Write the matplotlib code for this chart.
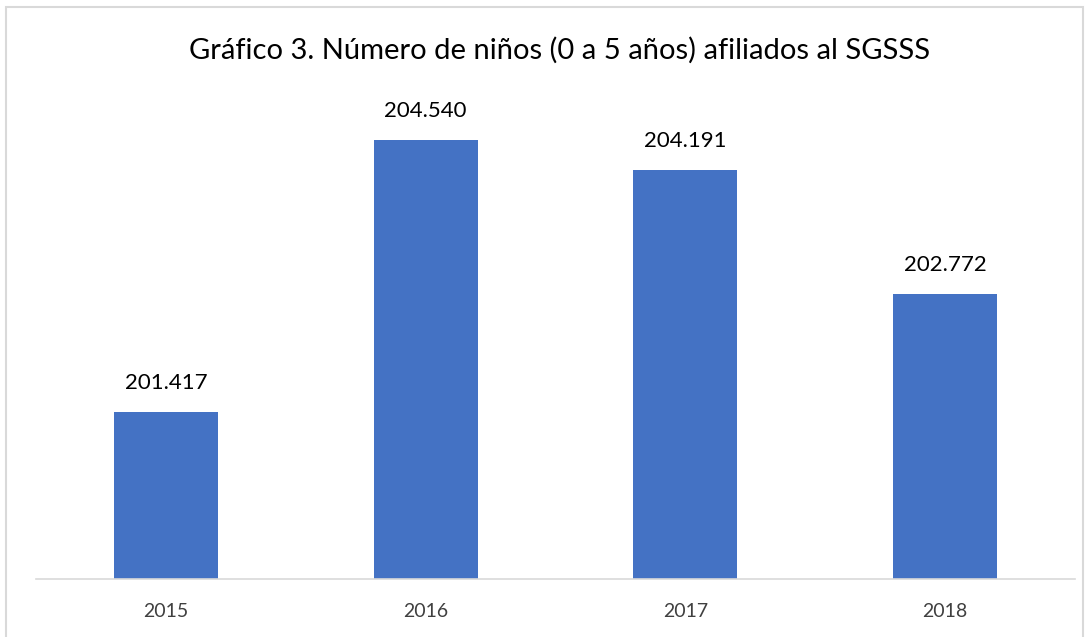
import matplotlib.pyplot as plt
from matplotlib.patches import Rectangle

years = ['2015', '2016', '2017', '2018']
ninos = [201417, 204540, 204191, 202772]

plt.rcParams['font.family'] = ['Lato', 'DejaVu Sans']

fig = plt.figure(figsize=(10.91, 6.37), dpi=100)
ax = fig.add_axes([36 / 1091, 1 - 579 / 637, (1075 - 36) / 1091, (579 - 100) / 637])

x = range(len(years))
bars = ax.bar(x, ninos, width=0.4, color='#4472C4', zorder=2)
ax.set_ylim(199500, 205000)
ax.set_xlim(-0.5, len(years) - 0.5)

for b, v in zip(bars, ninos):
    ax.text(b.get_x() + b.get_width() / 2, v + 220, f'{v:,}'.replace(',', '.'),
            ha='center', va='bottom', fontsize=16, color='#000000')

ax.set_xticks(list(x))
ax.set_xticklabels(years, fontsize=14, color='#404040')
ax.tick_params(axis='x', length=0, pad=17)
ax.set_yticks([])
for s in ['top', 'right', 'left']:
    ax.spines[s].set_visible(False)
ax.spines['bottom'].set_color('#D9D9D9')
ax.spines['bottom'].set_linewidth(1.2)

fig.text(0.513, 1 - 50 / 637, 'Gráfico 3. Número de niños (0 a 5 años) afiliados al SGSSS',
         ha='center', va='center', fontsize=21, color='#000000')

fig.patches.append(Rectangle((6 / 1091, -0.05), (1083 - 6) / 1091, 1.05 - 7 / 637,
                             transform=fig.transFigure, fill=False,
                             edgecolor='#D9D9D9', linewidth=1.5))

plt.savefig('out.png', dpi=100)
